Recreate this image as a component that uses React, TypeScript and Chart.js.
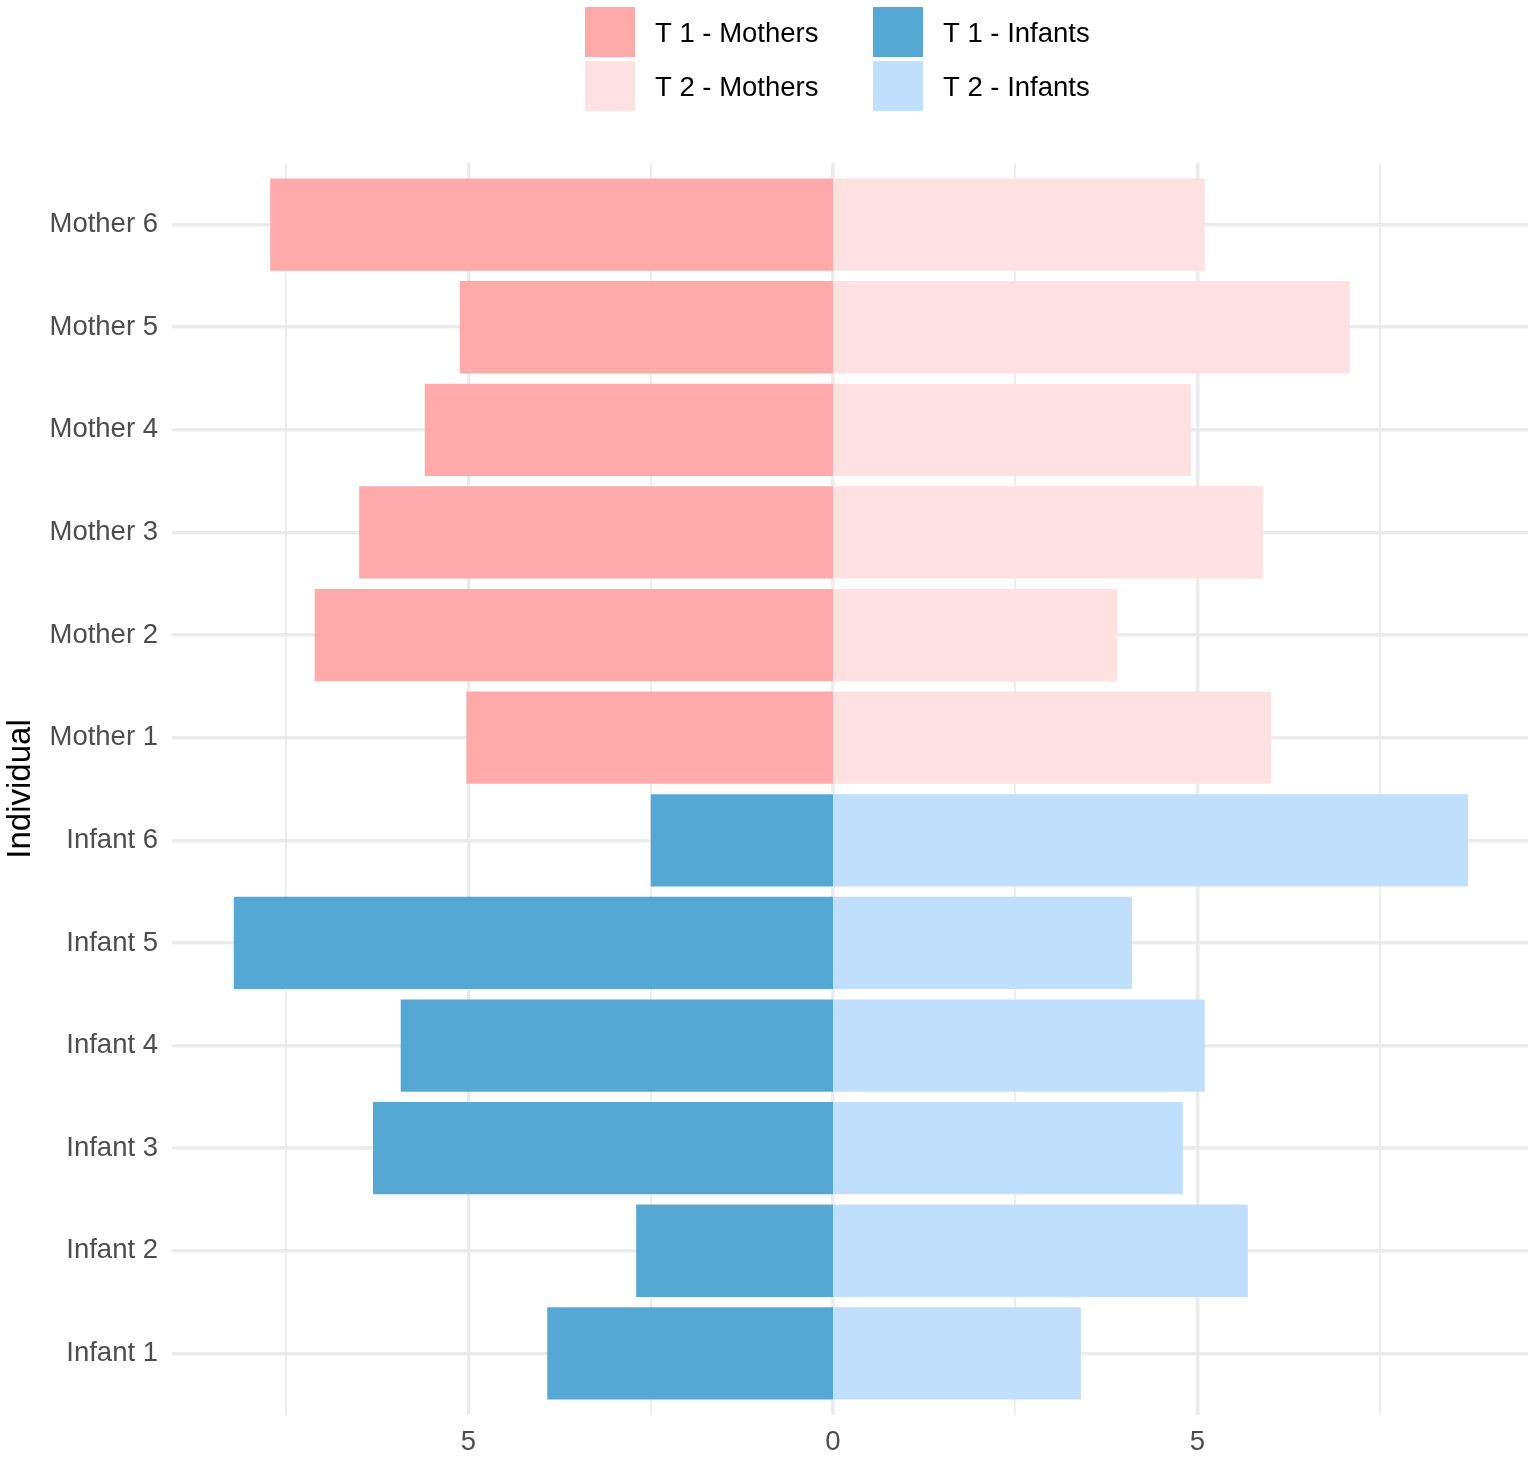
import React, { useEffect, useRef } from "react";
import { Chart, registerables } from "chart.js";

Chart.register(...registerables);

// Bottom-to-top order of the y axis
const individuals = [
  "Infant 1", "Infant 2", "Infant 3", "Infant 4", "Infant 5", "Infant 6",
  "Mother 1", "Mother 2", "Mother 3", "Mother 4", "Mother 5", "Mother 6",
];
const infantNames = ["Infant 1", "Infant 2", "Infant 3", "Infant 4", "Infant 5", "Infant 6"];
const motherNames = ["Mother 1", "Mother 2", "Mother 3", "Mother 4", "Mother 5", "Mother 6"];

const motherT1 = [5.03, 7.11, 6.5, 5.6, 5.12, 7.72];
const motherT2 = [6.01, 3.9, 5.9, 4.91, 7.09, 5.1];
const infantT1 = [3.92, 2.7, 6.31, 5.93, 8.22, 2.5];
const infantT2 = [3.4, 5.69, 4.8, 5.1, 4.1, 8.71];

const xGridTicks = [-7.5, -5, -2.5, 0, 2.5, 5, 7.5];
const xLabelTicks = [-5, 0, 5];

const FONT = "'Liberation Sans', Arial, Helvetica, sans-serif";

const posOf = (name: string) => individuals.indexOf(name) + 1;

const legendPlugin = {
  id: "gridLegend",
  afterDraw(chart: any) {
    const ctx = chart.ctx;
    const colX = [585, 873];
    chart.data.datasets.forEach((ds: any, i: number) => {
      const col = i % 2;
      const row = Math.floor(i / 2);
      const bx = colX[col];
      const by = 7 + row * 54;
      ctx.save();
      ctx.fillStyle = ds.backgroundColor;
      ctx.fillRect(bx, by, 50, 50);
      ctx.fillStyle = "#000000";
      ctx.font = `27.5px ${FONT}`;
      ctx.textBaseline = "middle";
      ctx.textAlign = "left";
      ctx.fillText(ds.label, bx + 70, by + 27);
      ctx.restore();
    });
  },
};

export default function App() {
  const canvasRef = useRef<HTMLCanvasElement | null>(null);

  useEffect(() => {
    if (!canvasRef.current) return;
    const chart = new Chart(canvasRef.current, {
      type: "bar",
      data: {
        datasets: [
          {
            label: "T 1 - Mothers",
            data: motherNames.map((n, i) => ({ x: -motherT1[i], y: posOf(n) })),
            backgroundColor: "#FEA9AA",
          },
          {
            label: "T 1 - Infants",
            data: infantNames.map((n, i) => ({ x: -infantT1[i], y: posOf(n) })),
            backgroundColor: "#56A8D4",
          },
          {
            label: "T 2 - Mothers",
            data: motherNames.map((n, i) => ({ x: motherT2[i], y: posOf(n) })),
            backgroundColor: "#FFE1E1",
          },
          {
            label: "T 2 - Infants",
            data: infantNames.map((n, i) => ({ x: infantT2[i], y: posOf(n) })),
            backgroundColor: "#BFDFFC",
          },
        ] as any,
      },
      options: {
        indexAxis: "y",
        responsive: false,
        animation: false,
        layout: { padding: { top: 163, left: 0, right: 7, bottom: 0 } },
        datasets: {
          bar: {
            grouped: false,
            categoryPercentage: 0.9,
            barPercentage: 1.0,
            borderWidth: 0,
            // tiny base offset so bars meet at zero without the grid-line gap
            base: 1e-9,
          } as any,
        },
        plugins: {
          legend: { display: false },
          tooltip: { enabled: false },
        },
        scales: {
          x: {
            type: "linear",
            min: -9.0672,
            max: 9.5336,
            offset: false,
            afterBuildTicks: (scale: any) => {
              scale.ticks = xGridTicks.map((v) => ({ value: v }));
            },
            afterFit: (scale: any) => {
              scale.height = 42;
            },
            border: { display: false },
            grid: {
              offset: false,
              color: "#EBEBEB",
              lineWidth: (ctx: any) =>
                ctx.tick && xLabelTicks.includes(ctx.tick.value) ? 3.5 : 1.75,
              drawTicks: false,
            },
            ticks: {
              autoSkip: false,
              maxRotation: 0,
              padding: 11,
              color: "#4D4D4D",
              font: { family: FONT, size: 27.5 },
              callback: (v: any) =>
                xLabelTicks.includes(Number(v)) ? String(Math.abs(Number(v))) : "",
            },
          },
          y: {
            type: "linear",
            min: 0.4,
            max: 12.6,
            offset: false,
            afterBuildTicks: (scale: any) => {
              scale.ticks = individuals.map((_, i) => ({ value: i + 1 }));
            },
            afterFit: (scale: any) => {
              scale.width = 172;
            },
            border: { display: false },
            grid: {
              offset: false,
              color: "#EBEBEB",
              lineWidth: 3.5,
              drawTicks: false,
            },
            ticks: {
              autoSkip: false,
              padding: 14,
              color: "#4D4D4D",
              font: { family: FONT, size: 27.5 },
              callback: (v: any) => individuals[Math.round(Number(v)) - 1] ?? "",
            },
            title: {
              display: true,
              text: "Individual",
              color: "#000000",
              font: { family: FONT, size: 33 },
              padding: { top: 1, bottom: 0 },
            },
          },
        },
      } as any,
      plugins: [legendPlugin],
    });
    return () => chart.destroy();
  }, []);

  return (
    <div
      style={{
        position: "absolute",
        left: 0,
        top: 0,
        width: 1535,
        height: 1457,
        background: "#FFFFFF",
      }}
    >
      <canvas
        ref={canvasRef}
        width={1535}
        height={1457}
        style={{ width: 1535, height: 1457, display: "block" }}
      />
    </div>
  );
}
